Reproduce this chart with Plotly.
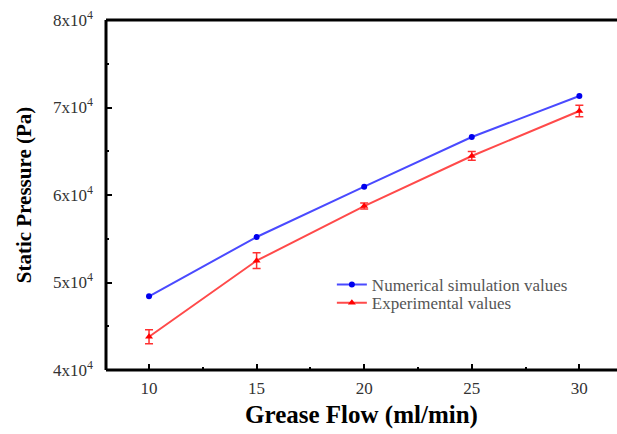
import plotly.graph_objects as go

flow = [10, 15, 20, 25, 30]
numerical = [48420, 55200, 60950, 66630, 71310]
experimental = [43800, 52490, 58740, 64460, 69600]
exp_err = [800, 900, 350, 500, 650]

x_ticks = [10, 15, 20, 25, 30]
y_ticks = [40000, 50000, 60000, 70000, 80000]
y_ticktext = ["4x10<sup>4</sup>", "5x10<sup>4</sup>", "6x10<sup>4</sup>", "7x10<sup>4</sup>", "8x10<sup>4</sup>"]

serif = "Liberation Serif, Times New Roman, serif"

fig = go.Figure()
fig.add_trace(go.Scatter(
    x=flow, y=numerical, mode="lines+markers", name="Numerical simulation values",
    line=dict(color="#4a4aff", width=2),
    marker=dict(color="#0000ee", size=6, symbol="circle"),
    legend="legend",
))
fig.add_trace(go.Scatter(
    x=flow, y=experimental, mode="lines+markers", name="Experimental values",
    line=dict(color="#ff4a4a", width=2),
    marker=dict(color="#ff0000", size=7, symbol="triangle-up"),
    error_y=dict(type="data", array=exp_err, visible=True, color="#ff3030", thickness=1.5, width=4),
    legend="legend2",
))

leg_common = dict(
    xanchor="left", yanchor="middle",
    bgcolor="rgba(0,0,0,0)",
    font=dict(family=serif, size=17, color="#555"),
    itemwidth=30,
)

frame = dict(type="line", xref="paper", yref="paper", line=dict(color="black", width=3), layer="above")

fig.update_layout(
    width=617, height=434,
    margin=dict(l=106, r=0, t=20, b=64),
    plot_bgcolor="white", paper_bgcolor="white",
    showlegend=True,
    legend=dict(x=0.442, y=0.243, **leg_common),
    legend2=dict(x=0.442, y=0.191, **leg_common),
    shapes=[
        dict(frame, x0=0, x1=0, y0=0, y1=1),
        dict(frame, x0=0, x1=1, y0=0, y1=0),
        dict(frame, x0=0, x1=1, y0=1, y1=1),
    ],
    xaxis=dict(
        range=[8, 31.75], tickvals=x_ticks,
        showline=False,
        ticks="inside", ticklen=6, tickwidth=2, tickcolor="black",
        minor=dict(dtick=2.5, tick0=10, ticks="inside", ticklen=3, tickwidth=2, tickcolor="black"),
        showgrid=False, zeroline=False,
        tickfont=dict(family=serif, size=17, color="#333"),
        ticklabelstandoff=6,
        title=dict(text="<b>Grease Flow (ml/min)</b>", font=dict(family=serif, size=25, color="black"), standoff=8),
    ),
    yaxis=dict(
        range=[40000, 80000], tickvals=y_ticks, ticktext=y_ticktext,
        showline=False,
        ticks="inside", ticklen=6, tickwidth=2, tickcolor="black",
        minor=dict(dtick=5000, tick0=40000, ticks="inside", ticklen=3, tickwidth=2, tickcolor="black"),
        showgrid=False, zeroline=False,
        tickfont=dict(family=serif, size=17, color="#333"),
        ticklabelstandoff=12,
        title=dict(text="<b>Static Pressure (Pa)</b>", font=dict(family=serif, size=21, color="black"), standoff=15),
    ),
)

fig.write_html("out.html")
